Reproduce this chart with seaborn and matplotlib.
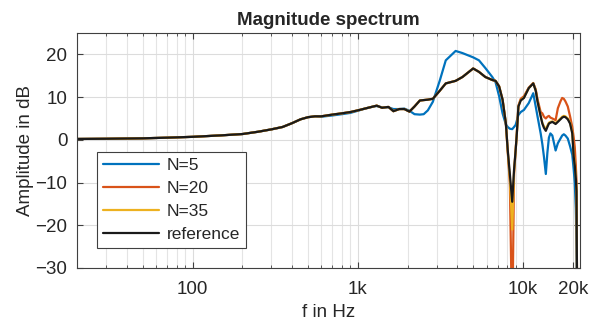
import numpy as np
import pandas as pd
import matplotlib
matplotlib.use("Agg")
import matplotlib.pyplot as plt
import matplotlib.ticker as mticker
import seaborn as sns

# ---------------- data ----------------
freq_hz = [20, 30, 50, 70, 100, 150, 200, 250, 300, 350, 400, 450, 500, 550, 600,
           700, 800, 900, 1000, 1100, 1240, 1300, 1400, 1530, 1640, 1780, 1910, 2050,
           2200, 2370, 2500, 2650, 2840, 3130, 3400, 3900, 4290, 4980, 5400, 5900,
           6500, 6800, 7150, 7500, 7850, 8060, 8300, 8580, 8800, 9000, 9150, 9350,
           9660, 10100, 10800, 11500, 11900, 12200, 12750, 13050, 13350, 13700, 14000,
           14300, 14600, 15000, 15700, 16200, 16800, 17200, 17600, 18000, 18600, 19200,
           19800, 20200, 20500, 20800, 21000, 21200, 22050]

mag_reference = [0.2, 0.25, 0.35, 0.5, 0.7, 1.05, 1.35, 1.9, 2.45, 3.0, 3.9, 4.8, 5.3, 5.5, 5.5,
                 5.9, 6.2, 6.5, 6.9, 7.3, 7.8, 8.0, 7.5, 7.7, 6.7, 7.2, 7.2, 6.6,
                 7.8, 9.2, 9.3, 9.4, 9.6, 11.5, 13.2, 13.8, 14.7, 16.7, 15.9, 14.7,
                 14.0, 13.8, 12.5, 9.4, 3.9, -2.4, -8.0, -14.5, -7.0, -2.4, 1.5, 7.8,
                 9.2, 9.8, 12.1, 13.2, 11.5, 9.0, 5.5, 3.8, 2.8, 2.1, 3.0,
                 3.8, 4.0, 4.2, 3.7, 4.2, 4.8, 5.2, 5.4, 5.3, 4.8, 3.8,
                 1.5, -4.0, -6.0, -9.0, -12.0, -40.0, -40.0]

mag_n35 = [0.2, 0.25, 0.35, 0.5, 0.7, 1.05, 1.35, 1.9, 2.45, 3.0, 3.9, 4.8, 5.3, 5.5, 5.5,
           5.9, 6.2, 6.5, 6.9, 7.3, 7.8, 8.0, 7.5, 7.7, 6.7, 7.2, 7.2, 6.6,
           7.8, 9.2, 9.3, 9.4, 9.6, 11.5, 13.2, 13.8, 14.7, 16.7, 15.9, 14.7,
           14.0, 13.8, 12.5, 9.4, 3.9, -2.6, -9.0, -21.0, -7.5, -2.4, 1.5, 7.8,
           9.3, 9.9, 12.1, 13.2, 11.6, 9.1, 5.6, 4.0, 3.1, 2.5, 3.3,
           4.0, 4.2, 4.3, 3.9, 4.4, 5.0, 5.4, 5.6, 5.5, 5.0, 4.0,
           1.8, -3.5, -5.5, -8.5, -11.5, -40.0, -40.0]

mag_n20 = [0.2, 0.25, 0.35, 0.5, 0.7, 1.05, 1.35, 1.9, 2.45, 3.0, 3.9, 4.8, 5.3, 5.5, 5.5,
           5.9, 6.2, 6.5, 6.9, 7.3, 7.8, 8.0, 7.5, 7.7, 6.7, 7.2, 7.2, 6.6,
           7.8, 9.2, 9.3, 9.4, 9.6, 11.5, 13.2, 13.8, 14.7, 16.7, 15.9, 14.7,
           14.0, 13.8, 12.5, 9.4, 3.9, -2.8, -10.0, -45.0, -8.0, -2.4, 1.6, 8.0,
           9.6, 10.2, 12.2, 13.3, 11.8, 9.5, 6.5, 6.2, 5.4, 5.0, 5.4,
           5.6, 5.2, 5.0, 4.6, 7.4, 9.0, 9.8, 9.6, 9.0, 7.8, 5.5,
           3.0, 0.5, -1.7, -6.0, -9.6, -40.0, -40.0]

mag_n5 = [0.2, 0.25, 0.35, 0.5, 0.7, 1.05, 1.35, 1.9, 2.45, 3.0, 3.9, 4.8, 5.3, 5.5, 5.4,
          5.7, 6.0, 6.3, 6.8, 7.3, 7.8, 7.9, 7.6, 7.6, 7.2, 7.2, 7.3, 6.8,
          6.0, 5.9, 6.0, 6.9, 8.9, 13.9, 18.6, 20.8, 20.3, 19.3, 18.6, 16.8,
          14.7, 13.5, 10.2, 6.2, 3.6, 3.0, 2.6, 2.5, 3.0, 3.5, 4.5, 5.8,
          6.5, 7.0, 8.6, 10.9, 7.8, 5.5, 1.5, -1.0, -4.0, -8.0, -3.0,
          0.5, 1.5, 1.0, -2.5, -0.8, 0.3, 1.0, 1.3, 1.0, 0.3, -1.5,
          -3.5, -7.0, -10.0, -16.0, -25.0, -40.0, -40.0]

series_names = ["N=5", "N=20", "N=35", "reference"]
series_colors = ["#0072BD", "#D95319", "#EDB120", "#1a1a1a"]
x_tick_values = [100, 1000, 10000, 20000]
x_tick_labels = ["100", "1k", "10k", "20k"]
y_tick_values = [-30, -20, -10, 0, 10, 20]

# ---------------- build long-form table ----------------
frames = []
for name, mags in zip(series_names, [mag_n5, mag_n20, mag_n35, mag_reference]):
    frames.append(pd.DataFrame({"f": freq_hz, "mag": mags, "series": name}))
df = pd.concat(frames, ignore_index=True)

# ---------------- style ----------------
sns.set_style("ticks")
plt.rcParams["font.family"] = ["Liberation Sans", "DejaVu Sans"]
text_color = "#262626"

fig = plt.figure(figsize=(5.95, 3.24), dpi=100)
ax = fig.add_axes([77 / 595, 1 - 268 / 324, (580 - 77) / 595, (268 - 33) / 324])

sns.lineplot(data=df, x="f", y="mag", hue="series", hue_order=series_names,
             palette=series_colors, estimator=None, sort=False,
             linewidth=1.6, ax=ax)

ax.set_xscale("log")
ax.set_xlim(20, 22050)
ax.set_ylim(-30, 25)
ax.set_xticks(x_tick_values)
ax.set_xticklabels(x_tick_labels)
ax.xaxis.set_minor_locator(mticker.LogLocator(base=10, subs=np.arange(2, 10), numticks=20))
ax.xaxis.set_minor_formatter(mticker.NullFormatter())
ax.set_yticks(y_tick_values)

ax.grid(True, which="major", axis="both", color="#dcdcdc", linewidth=0.8)
ax.grid(True, which="minor", axis="x", color="#e4e4e4", linewidth=0.8)
ax.set_axisbelow(True)

for s in ax.spines.values():
    s.set_visible(True)
    s.set_color("#404040")
    s.set_linewidth(0.8)

ax.tick_params(which="both", direction="in", top=True, right=True,
               colors="#404040", labelcolor=text_color, labelsize=13.5)
ax.tick_params(which="major", length=4, width=0.8)
ax.tick_params(which="minor", length=2.5, width=0.6)
ax.tick_params(axis="x", which="major", pad=9)
ax.tick_params(axis="y", which="major", pad=7)

ax.set_xlabel("f in Hz", fontsize=13.5, color=text_color, labelpad=5)
ax.set_ylabel("Amplitude in dB", fontsize=13.5, color=text_color, labelpad=1)
ax.set_title("Magnitude spectrum", fontsize=13.5, fontweight="bold", color=text_color, pad=6)

leg = ax.legend(loc="lower left", bbox_to_anchor=(20 / 503, 20 / 235), borderaxespad=0,
                fontsize=12.5, handlelength=3.25, labelspacing=0.45, handletextpad=0.42,
                borderpad=0.33, frameon=True, fancybox=False, framealpha=1,
                edgecolor="#404040")
leg.get_frame().set_linewidth(0.8)
for t in leg.get_texts():
    t.set_color(text_color)

fig.savefig("out.png", dpi=100)
